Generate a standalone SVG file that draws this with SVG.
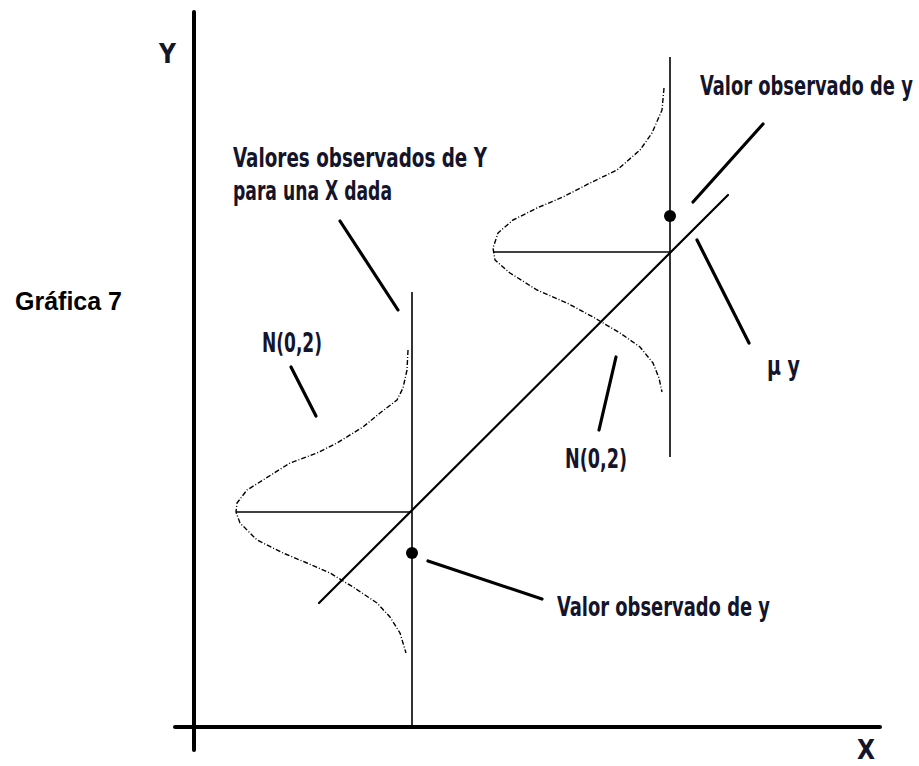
<svg xmlns="http://www.w3.org/2000/svg" width="919" height="766" viewBox="0 0 919 766">
<style>
.lbl{font-family:"DejaVu Sans Condensed","Liberation Sans Narrow","DejaVu Sans",sans-serif;font-weight:bold;font-size:26px;fill:#14142a}
.title{font-family:"Liberation Sans",Arial,sans-serif;font-weight:bold;font-size:25px;fill:#000}
.axis{stroke:#000;stroke-width:4;fill:none;stroke-linecap:round}
.thin{stroke:#000;stroke-width:1.6;fill:none}
.reg{stroke:#000;stroke-width:2.2;fill:none;stroke-linecap:round}
.lead{stroke:#000;stroke-width:3.2;fill:none;stroke-linecap:round}
.curve{stroke:#000;stroke-width:1.4;fill:none;stroke-dasharray:5 2 1 2;stroke-linejoin:round}
</style>
<rect width="919" height="766" fill="#fff"/>
<g id="title"><text class="title" x="15" y="310">Gráfica 7</text></g>
<g id="axes">
<line class="axis" x1="194" y1="12" x2="194" y2="750"/>
<line class="axis" x1="175" y1="727" x2="880" y2="727"/>
<text class="lbl" x="159" y="63" font-size="23">Y</text>
<text class="lbl" x="857" y="759" font-size="22">X</text>
</g>
<g id="regression"><line class="reg" x1="319" y1="603" x2="728" y2="195"/></g>
<g id="left-distribution">
<line class="thin" x1="412" y1="292" x2="412" y2="727"/>
<line class="thin" x1="236" y1="512" x2="412" y2="512"/>
<path class="curve" d="M408,350 L407,370 L403,388 L397,400 L380,413 L363,427 L337,443 L317,453 L290,463 L263,480 L247,490 L237,503 L236,512 L240,523 L257,540 L283,553 L307,563 L330,573 L353,587 L377,603 L390,617 L400,633 L406,653"/>
<circle cx="412" cy="553" r="6"/>
</g>
<g id="right-distribution">
<line class="thin" x1="670" y1="57" x2="670" y2="457"/>
<line class="thin" x1="493" y1="252" x2="670" y2="252"/>
<path class="curve" d="M664,88 L662,110 L652,133 L640,150 L617,170 L590,183 L563,197 L537,208 L513,220 L498,233 L493,248 L495,260 L510,273 L537,290 L567,303 L593,317 L620,333 L640,347 L653,363 L659,378 L662,392"/>
<circle cx="670" cy="216" r="6"/>
</g>
<g id="connectors">
<line class="lead" x1="340" y1="221" x2="398" y2="310"/>
<line class="lead" x1="291" y1="367" x2="316" y2="416"/>
<line class="lead" x1="616" y1="357" x2="599" y2="430"/>
<line class="lead" x1="697" y1="240" x2="749" y2="343"/>
<line class="lead" x1="693" y1="202" x2="763" y2="124"/>
<line class="lead" x1="428" y1="561" x2="542" y2="599"/>
</g>
<g id="label-valores"><text class="lbl" x="233" y="167" textLength="254" lengthAdjust="spacingAndGlyphs">Valores observados de Y</text>
<text class="lbl" x="233" y="200" textLength="159" lengthAdjust="spacingAndGlyphs">para una X dada</text></g>
<g id="label-top-valor"><text class="lbl" transform="translate(700,95) scale(0.76,1)" x="0" y="0" textLength="280" lengthAdjust="spacingAndGlyphs">Valor observado de y</text></g>
<g id="label-n-left"><text class="lbl" x="262" y="352" textLength="60" lengthAdjust="spacingAndGlyphs">N(0,2)</text></g>
<g id="label-n-right"><text class="lbl" x="565" y="468" textLength="62" lengthAdjust="spacingAndGlyphs">N(0,2)</text></g>
<g id="label-mu"><text class="lbl" x="767" y="375" textLength="33" lengthAdjust="spacingAndGlyphs">μ y</text></g>
<g id="label-bottom-valor"><text class="lbl" x="557" y="616" textLength="213" lengthAdjust="spacingAndGlyphs">Valor observado de y</text></g>
</svg>
